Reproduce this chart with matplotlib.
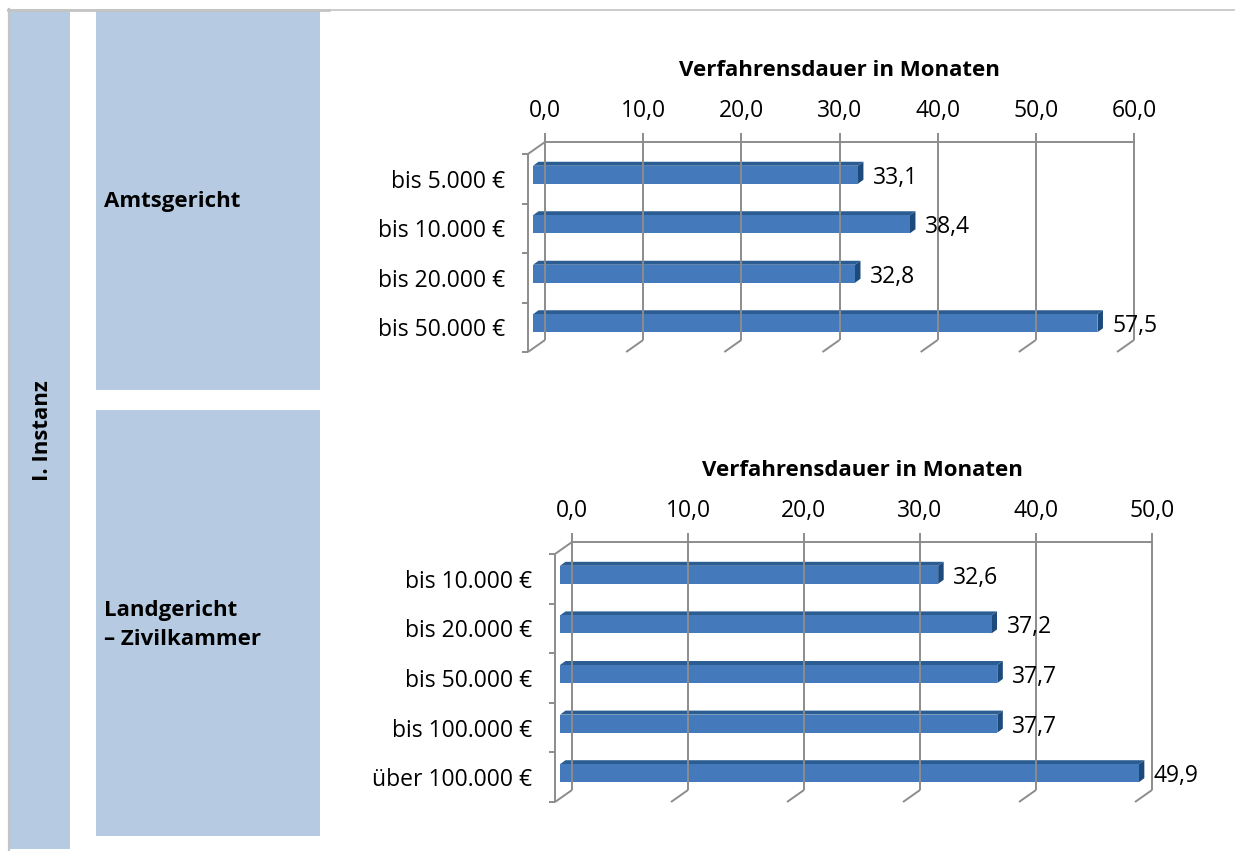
import matplotlib
matplotlib.use("Agg")
import matplotlib.pyplot as plt
from matplotlib.patches import Rectangle, Polygon

plt.rcParams["font.family"] = ["Open Sans", "DejaVu Sans"]

W, H = 1235, 851

# data
amts_cats = ["bis 5.000 €", "bis 10.000 €", "bis 20.000 €", "bis 50.000 €"]
amts_vals = [33.1, 38.4, 32.8, 57.5]
amts_ticks = [0, 10, 20, 30, 40, 50, 60]

land_cats = ["bis 10.000 €", "bis 20.000 €", "bis 50.000 €", "bis 100.000 €", "über 100.000 €"]
land_vals = [32.6, 37.2, 37.7, 37.7, 49.9]
land_ticks = [0, 10, 20, 30, 40, 50]

axis_title = "Verfahrensdauer in Monaten"

BOX = "#b6cbe2"
GRID = "#8c8c8c"
FRONT = "#4479bb"
TOP = "#2c5d92"
SIDE = "#1c4a7c"
FS = 16.5
FSB = 16


def fmt(v):
    return f"{v:.1f}".replace(".", ",")


def chart(fig, box, cats, vals, ticks):
    """box = back wall in pixels (x0, y0, x1, y1)."""
    x0, y0, x1, y1 = box
    xmax = ticks[-1]
    n = len(cats)
    ax = fig.add_axes([x0 / W, 1 - y1 / H, (x1 - x0) / W, (y1 - y0) / H])
    ax.set_xlim(0, xmax)
    ax.set_ylim(n - 0.5, -0.5)
    ax.axis("off")
    sx = (x1 - x0) / xmax
    sy = (y1 - y0) / n
    px = lambda d: d / sx
    py = lambda d: d / sy
    kw = dict(color=GRID, lw=1.4, clip_on=False, solid_capstyle="butt")
    dx, dy = px(-17), py(12)
    top, bot = -0.5, n - 0.5

    # back wall + floor
    ax.plot([0, xmax], [top, top], **kw)
    for t in ticks:
        ax.plot([t, t], [top - py(9), bot], **kw)
        ax.plot([t, t + dx], [bot, bot + dy], **kw)
        ax.text(t, top - py(31), fmt(t), ha="center", va="center", fontsize=FS)
    ax.text(xmax / 2, top - py(71), axis_title, ha="center", va="center",
            fontsize=FSB, fontweight="bold")
    # left wall
    ax.plot([0, dx], [top, top + dy], **kw)
    ax.plot([dx, dx], [top + dy, bot + dy], **kw)
    for k in range(n + 1):
        ax.plot([dx, dx - px(6)], [k - 0.5 + dy, k - 0.5 + dy], **kw)

    # bars
    fx, fy, h = px(-12), py(8), py(18)
    bx, by = px(5.5), py(-4)
    for i, (c, v) in enumerate(zip(cats, vals)):
        ytop = i + fy - h / 2
        ax.add_patch(Polygon([(fx, ytop), (fx + v, ytop), (fx + v + bx, ytop + by),
                              (fx + bx, ytop + by)], closed=True, fc=TOP, ec="none",
                             clip_on=False))
        ax.add_patch(Polygon([(fx + v, ytop), (fx + v, ytop + h),
                              (fx + v + bx, ytop + h + by), (fx + v + bx, ytop + by)],
                             closed=True, fc=SIDE, ec="none", clip_on=False))
        ax.add_patch(Rectangle((fx, ytop), v, h, fc=FRONT, ec="none", clip_on=False))
        ax.text(v + px(3), i + py(11), fmt(v), ha="left", va="center", fontsize=FS)
        ax.text(px(-40), i + py(15), c, ha="right", va="center", fontsize=FS)
    return ax


fig = plt.figure(figsize=(W / 100, H / 100), dpi=100)
bg = fig.add_axes([0, 0, 1, 1])
bg.set_xlim(0, W)
bg.set_ylim(H, 0)
bg.axis("off")
bg.plot([8, W], [9.5, 9.5], color="#c4c4c4", lw=1.2)
bg.plot([8, 329], [10, 10], color="#c4c4c4", lw=2)
bg.plot([9, 9], [9, H], color="#c4c4c4", lw=1.6)
bg.add_patch(Rectangle((10, 11), 60, 838, fc=BOX, ec="none"))
bg.add_patch(Rectangle((96, 11), 224, 379, fc=BOX, ec="none"))
bg.add_patch(Rectangle((96, 410), 224, 426, fc=BOX, ec="none"))
bg.text(42, 431, "I. Instanz", rotation=90, ha="center", va="center",
        fontsize=FSB, fontweight="bold")
bg.text(104, 202, "Amtsgericht", ha="left", va="center", fontsize=FSB, fontweight="bold")
bg.text(104, 625, "Landgericht\n– Zivilkammer", ha="left", va="center",
        fontsize=FSB, fontweight="bold", linespacing=1.55)

chart(fig, (545, 142, 1134, 340), amts_cats, amts_vals, amts_ticks)
chart(fig, (572, 542, 1152, 790), land_cats, land_vals, land_ticks)

fig.savefig("out.png", dpi=100)
